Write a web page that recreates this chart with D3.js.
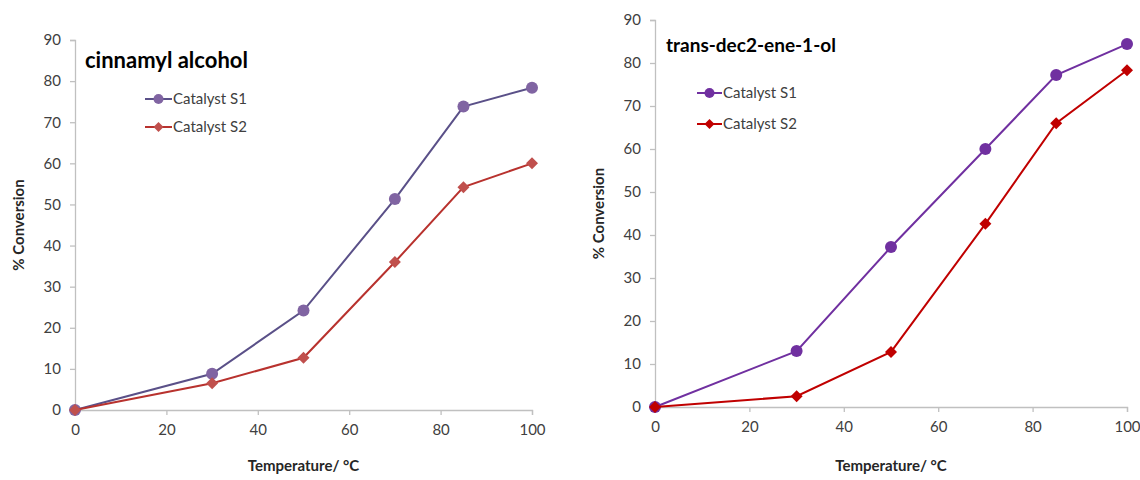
<!DOCTYPE html>
<html>
<head>
<meta charset="utf-8">
<script src="https://cdn.jsdelivr.net/npm/d3@7"></script>
<style>
  html, body { margin: 0; padding: 0; background: #fff; }
  svg { display: block; font-family: Lato, "Open Sans", sans-serif; }
</style>
</head>
<body>
<svg id="chart" width="1140" height="480"></svg>
<script>
// ---- data ----
const temperatures = [0, 30, 50, 70, 85, 100];
const cinnamylS1 = [0, 8.8, 24.2, 51.3, 73.8, 78.4];
const cinnamylS2 = [0, 6.5, 12.7, 36.0, 54.2, 60.0];
const decenolS1 = [0, 13.0, 37.2, 60.0, 77.2, 84.4];
const decenolS2 = [0, 2.5, 12.8, 42.6, 66.0, 78.3];
const xTicks = [0, 20, 40, 60, 80, 100];
const yTicks = [0, 10, 20, 30, 40, 50, 60, 70, 80, 90];
const seriesNames = ["Catalyst S1", "Catalyst S2"];
const panelTitles = ["cinnamyl alcohol", "trans-dec2-ene-1-ol"];
const xTitle = "Temperature/ \u00B0C";
const yTitle = "% Conversion";

const svg = d3.select("#chart");

const panels = [
  {
    title: panelTitles[0],
    s1: cinnamylS1, s2: cinnamylS2,
    x0: 75, x1: 532, y0: 410, y1: 40,
    titlePos: [85, 68],
    legend: { x0: 145, x1: 172, y: 99, dy: 28 },
    colors: { l1: "#5a5088", m1: "#8064A2", l2: "#b8322e", m2: "#C0504D" },
    titleSize: 22
  },
  {
    title: panelTitles[1],
    s1: decenolS1, s2: decenolS2,
    x0: 655, x1: 1127, y0: 407, y1: 20,
    titlePos: [666, 52],
    legend: { x0: 697, x1: 722, y: 93, dy: 31 },
    colors: { l1: "#7030A0", m1: "#7030A0", l2: "#C00000", m2: "#C00000" },
    titleSize: 19
  }
];

// square diamond marker path generator (half-diagonal r)
const diamondPath = r => `M0,${-r}L${r},0L0,${r}L${-r},0Z`;

panels.forEach(p => {
  const x = d3.scaleLinear().domain([0, 100]).range([p.x0, p.x1]);
  const y = d3.scaleLinear().domain([0, 90]).range([p.y0, p.y1]);
  const g = svg.append("g");

  // axes
  const xa = g.append("g").attr("transform", `translate(0,${p.y0})`)
    .call(d3.axisBottom(x).tickValues(xTicks).tickSize(5).tickPadding(9).tickFormat(d3.format("d")));
  const ya = g.append("g").attr("transform", `translate(${p.x0},0)`)
    .call(d3.axisLeft(y).tickValues(yTicks).tickSize(5).tickPadding(9).tickFormat(d3.format("d")));
  [xa, ya].forEach(a => {
    a.selectAll("path.domain").attr("stroke", "#c0c0c0").attr("stroke-width", 1.3);
    a.selectAll(".tick line").attr("stroke", "#c0c0c0").attr("stroke-width", 1.3);
    a.selectAll(".tick text").attr("fill", "#404040").style("font-size", "15px")
      .style("font-family", "Lato, sans-serif");
  });

  // axis titles
  g.append("text").attr("x", (p.x0 + p.x1) / 2).attr("y", 471)
    .attr("text-anchor", "middle").attr("font-weight", "bold").attr("font-size", 15)
    .attr("fill", "#262626").text(xTitle);
  g.append("text")
    .attr("transform", `translate(${p.x0 - 51},${(p.y0 + p.y1) / 2}) rotate(-90)`)
    .attr("text-anchor", "middle").attr("font-weight", "bold").attr("font-size", 15)
    .attr("fill", "#262626").text(yTitle);

  // chart title
  g.append("text").attr("x", p.titlePos[0]).attr("y", p.titlePos[1])
    .attr("font-weight", "bold").attr("font-size", p.titleSize).attr("fill", "#000")
    .text(p.title);

  const line = d3.line().x((d, i) => x(temperatures[i])).y(d => y(d));

  // series 1 first, series 2 drawn on top (Excel order)
  g.append("path").datum(p.s1).attr("d", line).attr("fill", "none")
    .attr("stroke", p.colors.l1).attr("stroke-width", 2);
  g.selectAll(".m1").data(p.s1).enter().append("circle")
    .attr("cx", (d, i) => x(temperatures[i])).attr("cy", d => y(d)).attr("r", 6)
    .attr("fill", p.colors.m1);
  g.append("path").datum(p.s2).attr("d", line).attr("fill", "none")
    .attr("stroke", p.colors.l2).attr("stroke-width", 2);
  g.selectAll(".m2").data(p.s2).enter().append("path")
    .attr("d", diamondPath(6))
    .attr("transform", (d, i) => `translate(${x(temperatures[i])},${y(d)})`)
    .attr("fill", p.colors.m2);

  // legend
  const L = p.legend;
  [0, 1].forEach(k => {
    const ly = L.y + k * L.dy;
    const lc = k === 0 ? p.colors.l1 : p.colors.l2;
    const mc = k === 0 ? p.colors.m1 : p.colors.m2;
    g.append("line").attr("x1", L.x0).attr("x2", L.x1).attr("y1", ly).attr("y2", ly)
      .attr("stroke", lc).attr("stroke-width", 2);
    const cx = (L.x0 + L.x1) / 2;
    if (k === 0) {
      g.append("circle").attr("cx", cx).attr("cy", ly).attr("r", 5).attr("fill", mc);
    } else {
      g.append("path").attr("d", diamondPath(5))
        .attr("transform", `translate(${cx},${ly})`).attr("fill", mc);
    }
    g.append("text").attr("x", L.x1 + 1).attr("y", ly + 5)
      .attr("font-size", 15).attr("fill", "#404040").text(seriesNames[k]);
  });
});
</script>
</body>
</html>
